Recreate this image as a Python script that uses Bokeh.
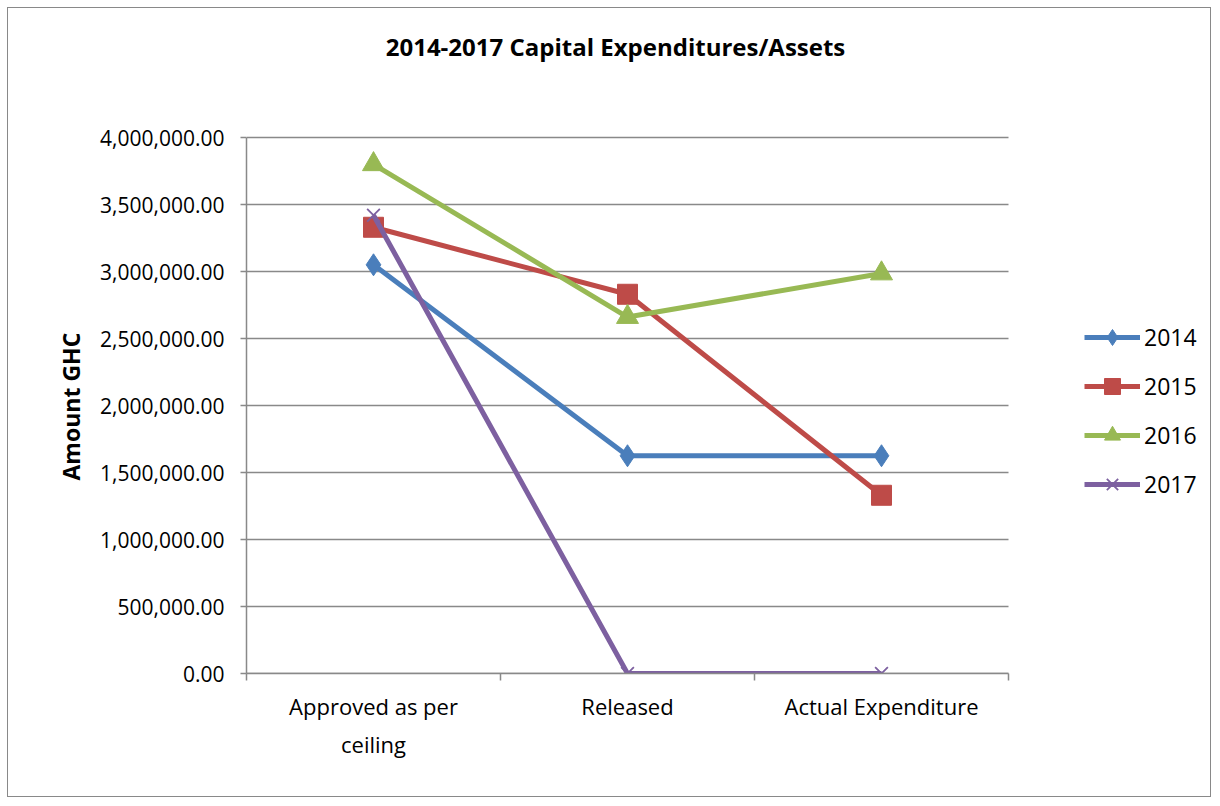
from bokeh.plotting import figure
from bokeh.models import (Range1d, FixedTicker, NumeralTickFormatter, Legend, LegendItem,
                          Label, Title)
from bokeh.embed import file_html
from bokeh.resources import INLINE

categories = ["Approved as per\nceiling", "Released", "Actual Expenditure"]
series_names = ["2014", "2015", "2016", "2017"]
v2014 = [3050000, 1625000, 1625000]
v2015 = [3330000, 2830000, 1330000]
v2016 = [3800000, 2660000, 2985000]
v2017 = [3420000, 0, 0]
y_ticks = [0, 500000, 1000000, 1500000, 2000000, 2500000, 3000000, 3500000, 4000000]
title_text = "2014-2017 Capital Expenditures/Assets"
y_label = "Amount GHC"

series_values = [v2014, v2015, v2016, v2017]
colors = ["#4A7EBB", "#BE4B48", "#98B954", "#7D60A0"]
markers = ["diamond", "square", "triangle", "x"]
msizes = [22, 20, 22, 18]

FONT = "Open Sans"
GRAY = "#898989"

# layout in pixels
W, H = 1204, 790
LEFT, RIGHT, TOP, BOTTOM = 238, 7, 10, 125
PLOT_W, PLOT_H = 762, 536          # the gridded plot area
frame_w = W - LEFT - RIGHT
frame_h = H - TOP - BOTTOM

n = len(categories)
y_min, y_max = y_ticks[0], y_ticks[-1]
x_end = n * frame_w / PLOT_W
y_end = y_max * frame_h / PLOT_H

xs = [i + 0.5 for i in range(n)]

p = figure(width=W, height=H, output_backend="svg", toolbar_location=None,
           x_range=Range1d(0, x_end), y_range=Range1d(y_min, y_end),
           min_border_left=LEFT, min_border_right=RIGHT, min_border_top=TOP,
           min_border_bottom=BOTTOM)
p.styles = {"border": "1px solid #898989", "margin": "7px 0px 0px 7px"}
p.outline_line_color = None
p.background_fill_color = "white"
p.border_fill_color = "white"
p.xgrid.grid_line_color = None
p.ygrid.grid_line_color = None

# title (placed in plot space above the gridded area)
p.add_layout(Label(x=(615 - 246) / PLOT_W * n, y=y_max * (674 - 47) / PLOT_H,
                   text=title_text, text_font=FONT, text_font_size="24px",
                   text_font_style="bold", text_align="center",
                   text_baseline="middle", text_color="black"))

# horizontal grid lines limited to the plot area
p.segment(x0=[0] * len(y_ticks), x1=[n] * len(y_ticks), y0=y_ticks, y1=y_ticks,
          line_color=GRAY, line_width=1.5)

# y axis
yaxis = p.yaxis[0]
yaxis.bounds = (y_min, y_max)
yaxis.ticker = FixedTicker(ticks=y_ticks)
yaxis.formatter = NumeralTickFormatter(format="0,0.00")
yaxis.major_label_text_font = FONT
yaxis.major_label_text_font_size = "21px"
yaxis.major_label_text_color = "black"
yaxis.major_label_standoff = 16
yaxis.axis_line_color = GRAY
yaxis.axis_line_width = 1.5
yaxis.major_tick_line_color = GRAY
yaxis.major_tick_line_width = 1.5
yaxis.major_tick_out = 6
yaxis.major_tick_in = 0
yaxis.minor_tick_line_color = None

# y axis title, starting from the bottom of the frame (offset in px)
ytitle = Title(text=y_label, align="left", offset=193, standoff=22,
               text_font=FONT, text_font_size="23px", text_font_style="bold",
               text_color="black")
p.add_layout(ytitle, "left")

# x axis
xaxis = p.xaxis[0]
xaxis.bounds = (0, n)
xaxis.ticker = FixedTicker(ticks=xs, minor_ticks=list(range(n + 1)))
xaxis.major_label_overrides = {x: c for x, c in zip(xs, categories)}
xaxis.major_label_text_font = FONT
xaxis.major_label_text_font_size = "22px"
xaxis.major_label_text_line_height = 1.27
xaxis.major_label_text_color = "black"
xaxis.major_label_standoff = 10
xaxis.major_tick_line_color = None
xaxis.minor_tick_line_color = GRAY
xaxis.minor_tick_line_width = 1.5
xaxis.minor_tick_out = 7
xaxis.minor_tick_in = 0
xaxis.axis_line_color = GRAY
xaxis.axis_line_width = 1.5

items = []
for name, vals, c, m, s in zip(series_names, series_values, colors, markers, msizes):
    r1 = p.line(xs, vals, line_color=c, line_width=5)
    if m == "x":
        r2 = p.scatter(xs, vals, marker=m, size=s, line_color=c, line_width=1.8)
    else:
        r2 = p.scatter(xs, vals, marker=m, size=s, fill_color=c, line_color=c)
    items.append(LegendItem(label=name, renderers=[r1, r2]))

legend = Legend(items=items, location=(838, 169))
legend.label_text_font = FONT
legend.label_text_font_size = "23px"
legend.label_text_color = "black"
legend.glyph_width = 56
legend.glyph_height = 40
legend.label_height = 40
legend.spacing = 9
legend.padding = 0
legend.margin = 0
legend.label_standoff = 4
legend.border_line_color = None
legend.background_fill_alpha = 0
p.add_layout(legend, "center")

open("out.html", "w").write(file_html(p, INLINE))
